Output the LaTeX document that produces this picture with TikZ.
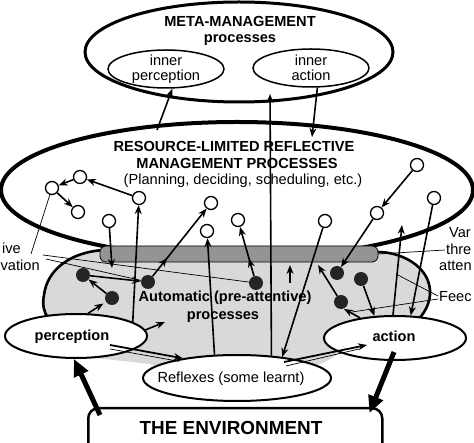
\documentclass[tikz,border=0pt]{standalone}
\usepackage{fontspec}
\setmainfont{Liberation Sans}
\usetikzlibrary{arrows.meta,shapes.geometric,decorations.markings}
\begin{document}
\begin{tikzpicture}[x=1pt,y=-1pt,
  txt/.style={font=\fontsize{14.6}{15}\selectfont, inner sep=0pt, text height=10.5pt, text depth=3pt},
  btxt/.style={txt, font=\fontsize{14.6}{15}\selectfont\bfseries},
  ell/.style={draw, ellipse, inner sep=0pt, fill=white},
  wc/.style={draw, circle, fill=white, line width=1.3pt, minimum size=13pt, inner sep=0pt},
  bd/.style={circle, fill=black!86, minimum size=14pt, inner sep=0pt},
  arr/.style={line width=1.6pt, -{Stealth[length=9pt,width=7pt]}},
  bigarr/.style={line width=5pt, -{Triangle[length=17pt,width=15pt]}},
  thinl/.style={line width=0.7pt},
  blobline/.style={line width=2.6pt},
  midtip/.style={postaction={decorate,decoration={markings,mark=at position #1 with {\arrow{Stealth[length=9pt,width=7pt]}}}}},
]
\useasboundingbox (0,0) rectangle (474,443);
\clip (0,0) rectangle (474,443);

% ---- meta-management
\node[ell, line width=3pt, minimum width=308pt, minimum height=100pt] (mm) at (239,52) {};
\node[ell, line width=1.5pt, minimum width=116pt, minimum height=38pt] (ip) at (166,69) {};
\node[ell, line width=1.5pt, minimum width=116pt, minimum height=38pt] (ia) at (311,68) {};
\node[btxt] (mmt1) at (240,23) {META-MANAGEMENT};
\node[btxt] (mmt2) at (240,39) {processes};
\node[txt] (ipt1) at (166,62) {inner};
\node[txt] (ipt2) at (166,77) {perception};
\node[txt] (iat1) at (311,62) {inner};
\node[txt] (iat2) at (311,77) {action};

% ---- reflective management
\node[ell, line width=4pt, minimum width=472pt, minimum height=136pt] (rl) at (237,190) {};

% ---- automatic region
\fill[black!15] (104,250) .. controls (70,252) and (47,270) .. (44,295)
   .. controls (42,305) and (44,312) .. (48,318) -- (60,354) -- (150,364) -- (175,372)
   -- (300,372) -- (325,362) -- (345,350) -- (416,322)
   .. controls (424,314) and (431,303) .. (430,290)
   .. controls (428,265) and (400,252) .. (378,252) -- cycle;
\draw[blobline] (104,250) .. controls (70,252) and (47,270) .. (44,295)
   .. controls (42,305) and (44,312) .. (48,318);
\draw[blobline] (378,252) .. controls (400,252) and (428,265) .. (430,290)
   .. controls (431,303) and (424,314) .. (416,322);

\node[draw, line width=0.8pt, fill=black!42, rounded corners=6pt, minimum width=278pt, minimum height=16pt, inner sep=0pt] (bar) at (239,254) {};

\node[btxt] (rt1) at (234,148) {RESOURCE-LIMITED REFLECTIVE};
\node[btxt] (rt2) at (237,165) {MANAGEMENT PROCESSES};
\node[txt] (rt3) at (243,181) {(Planning, deciding, scheduling, etc.)};
\node[btxt] (at1) at (225,298) {Automatic (pre-attentive)};
\node[btxt] (at2) at (223,316) {processes};

% ---- lower ellipses and environment
\node[ell, line width=2pt, minimum width=142pt, minimum height=44pt] (pc) at (76,336) {};
\node[ell, line width=2pt, minimum width=188pt, minimum height=46pt] (rf) at (237,378) {};
\node[ell, line width=2pt, minimum width=142pt, minimum height=44pt] (ac) at (395,338) {};
\node[btxt] (pct) at (72,337) {perception};
\node[txt] (rft) at (231,379) {Reflexes (some learnt)};
\node[btxt] (act) at (394,338) {action};

\node[draw, line width=2.5pt, fill=white, rounded corners=10pt, minimum width=294pt, minimum height=64pt, inner sep=0pt, anchor=north west] (env) at (87,407) {};
\node[font=\fontsize{18.9}{20}\selectfont\bfseries, inner sep=0pt] (envt) at (231,428) {THE ENVIRONMENT};

% ---- small circles and dots
\foreach \n/\x/\y in {c1/80/177, c2/52/188, c3/78/212, c4/139/198, c5/109/221, c6/211/203,
  c7/207/231, c8/238/220, c9/417/165, c10/434/198, c11/377/213, c12/325/221}
  \node[wc] (\n) at (\x,\y) {};
\foreach \n/\x/\y in {d1/83/275, d2/112/298, d3/148/282, d4/256/283, d5/337/273, d6/361/279, d7/341/302}
  \node[bd] (\n) at (\x,\y) {};

% ---- free coordinates
\coordinate (p1) at (157,130);
\coordinate (t2) at (312,137);
\coordinate (t3) at (270,94);
\coordinate (t7) at (112,268);
\coordinate (t16) at (165,322);
\coordinate (t17) at (318,265);
\coordinate (s1) at (290,283);
\coordinate (s2) at (290,265);
\coordinate (t22) at (344,309);
\coordinate (t24) at (402,225);
\coordinate (t25) at (367,345);
\coordinate (lm1) at (31,254);
\coordinate (lm2) at (43,255);
\coordinate (lm3) at (46,259);
\coordinate (vt) at (445,250);
\coordinate (fb1) at (438,296);
\coordinate (fb1e) at (396,274);
\coordinate (fb2) at (438,299);
\coordinate (fb2e) at (352,312);

% ---- arrows
\draw[arr] (p1) -- (ip.-72);
\draw[arr] (ia.-72) -- (t2);
\draw[arr] (rf.33) -- (t3);
\draw[arr] (c4) -- (c1);
\draw[arr] (c1) -- (c2);
\draw[arr] (c2) -- (c3);
\draw[arr] (c5) -- (t7);
\draw[arr] (pc.14) -- (c4);
\draw[arr, midtip=0.27] (d3) -- (c6);
\draw[arr, midtip=0.36] (d4) -- (c8);
\draw[arr] (rf.134) -- (c7);
\draw[arr] (c12) -- (rf.25);
\draw[arr] (d1) -- (d3);
\draw[arr] (d2) -- (d1);
\draw[arr, shorten >=3pt] (pc.62) -- (d2);
\draw[arr] (pc.5) -- (t16);
\draw[arr] (d7) -- (t17);
\draw[arr] (c11) -- (d5);
\draw[arr] (c9) -- (c11);
\draw[arr] (s1) -- (s2);
\draw[arr] (d6) -- (ac.133);
\draw[arr] (ac.150) -- (t22);
\draw[arr] (c10) -- (ac.55);
\draw[arr] (ac.95) -- (t24);

% double arrows
\draw[arr, line width=1.8pt] ([shift={(34,9)}]pc.center) -- (rf.160);
\draw[thinl] ([shift={(34,13)}]pc.center) -- ([shift={(-4,3)}]rf.160);
\draw[arr, line width=1.8pt] ([shift={(47,-16)}]rf.center) -- (t25);
\draw[thinl] ([shift={(49,-12)}]rf.center) -- ([shift={(-8,4)}]t25);

% big arrows
\draw[bigarr] ([shift={(13,8)}]env.north west) -- (pc.-95);
\draw[bigarr] ([shift={(-1,14)}]ac.center) -- ([shift={(-14,6)}]env.north east);

% thin pointer lines
\draw[thinl] (lm1) -- (c2);
\draw[thinl] (lm2) -- (d4);
\draw[thinl] (lm3) -- (d3);
\draw[thinl] (bar.east) -- (vt);
\draw[thinl] (fb1) -- (fb1e);
\draw[thinl] (fb2) -- (fb2e);

% ---- side labels (as far as the picture shows them)
\node[txt, anchor=west] (lbm1) at (2,250) {ive};
\node[txt, anchor=west] (lbm2) at (0.5,267) {vation};
\node[txt, anchor=west] (lbv1) at (449,234) {Var};
\node[txt, anchor=west] (lbv2) at (446,251) {thre};
\node[txt, anchor=west] (lbv3) at (439,267) {atten};
\node[txt, anchor=west] (lbf) at (439,298) {Feec};
\end{tikzpicture}
\end{document}
